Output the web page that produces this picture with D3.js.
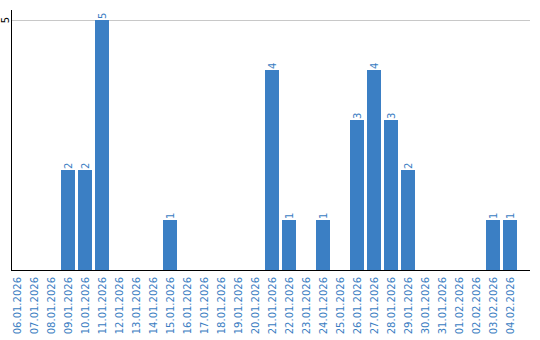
<!DOCTYPE html>
<html>
<head>
<meta charset="utf-8">
<script src="https://cdn.jsdelivr.net/npm/d3@7"></script>
<style>
  body { margin: 0; background: #fff; }
  text { font-family: "DejaVu Sans", Verdana, sans-serif; }
</style>
</head>
<body>
<div id="chart"></div>
<script>
var svgWidth = 540;
var svgHeight = 340;

// data
var dates = ["06.01.2026", "07.01.2026", "08.01.2026", "09.01.2026", "10.01.2026",
  "11.01.2026", "12.01.2026", "13.01.2026", "14.01.2026", "15.01.2026",
  "16.01.2026", "17.01.2026", "18.01.2026", "19.01.2026", "20.01.2026",
  "21.01.2026", "22.01.2026", "23.01.2026", "24.01.2026", "25.01.2026",
  "26.01.2026", "27.01.2026", "28.01.2026", "29.01.2026", "30.01.2026",
  "31.01.2026", "01.02.2026", "02.02.2026", "03.02.2026", "04.02.2026"];
var counts = [0, 0, 0, 2, 2, 5, 0, 0, 0, 1, 0, 0, 0, 0, 0, 4, 1, 0, 1, 0, 3, 4, 3, 2, 0, 0, 0, 0, 1, 1];
var yTicks = [5];

var barColor = "#3b7fc4";
var labelColor = "#3a7dc2";

var plotLeft = 11, plotRight = 530, plotTop = 20, plotBottom = 270;

var svg = d3.select("#chart")
  .append("svg")
  .attr("width", svgWidth)
  .attr("height", svgHeight);

var x = d3.scaleBand()
  .domain(dates)
  .range([10, 517])
  .paddingInner(3 / 17)
  .paddingOuter(0);

var y = d3.scaleLinear()
  .domain([0, 5])
  .range([plotBottom, plotTop]);

// grid lines
svg.append("g")
  .selectAll("line")
  .data(yTicks)
  .enter()
  .append("line")
  .attr("x1", plotLeft)
  .attr("x2", plotRight)
  .attr("y1", d => y(d) + 0.5)
  .attr("y2", d => y(d) + 0.5)
  .attr("stroke", "#c8c8c8")
  .attr("stroke-width", 1);

// bars
var data = dates.map((d, i) => ({ date: d, value: counts[i] }));

svg.append("g")
  .selectAll("rect")
  .data(data.filter(d => d.value > 0))
  .enter()
  .append("rect")
  .attr("x", d => x(d.date))
  .attr("y", d => y(d.value))
  .attr("width", x.bandwidth())
  .attr("height", d => plotBottom - y(d.value))
  .attr("fill", barColor);

// value labels
svg.append("g")
  .selectAll("text")
  .data(data.filter(d => d.value > 0))
  .enter()
  .append("text")
  .attr("transform", d => `translate(${x(d.date) + x.bandwidth() / 2}, ${y(d.value) - 1}) rotate(-90)`)
  .attr("dy", "0.35em")
  .attr("font-size", "10px")
  .attr("fill", labelColor)
  .text(d => d.value);

// axes
svg.append("line")
  .attr("x1", plotLeft + 0.5).attr("x2", plotLeft + 0.5)
  .attr("y1", 10).attr("y2", plotBottom + 1)
  .attr("stroke", "#000");

svg.append("line")
  .attr("x1", plotLeft).attr("x2", plotRight)
  .attr("y1", plotBottom + 0.5).attr("y2", plotBottom + 0.5)
  .attr("stroke", "#000");

// y tick labels
svg.append("g")
  .selectAll("text")
  .data(yTicks)
  .enter()
  .append("text")
  .attr("transform", d => `translate(5, ${y(d)}) rotate(-90)`)
  .attr("dy", "0.35em")
  .attr("text-anchor", "middle")
  .attr("font-size", "10px")
  .attr("fill", "#000")
  .text(d => d);

// x tick labels
svg.append("g")
  .selectAll("text")
  .data(dates)
  .enter()
  .append("text")
  .attr("transform", d => `translate(${x(d) + x.bandwidth() / 2}, 277) rotate(-90)`)
  .attr("dy", "0.35em")
  .attr("text-anchor", "end")
  .attr("font-size", "10px")
  .attr("fill", labelColor)
  .text(d => d);
</script>
</body>
</html>
